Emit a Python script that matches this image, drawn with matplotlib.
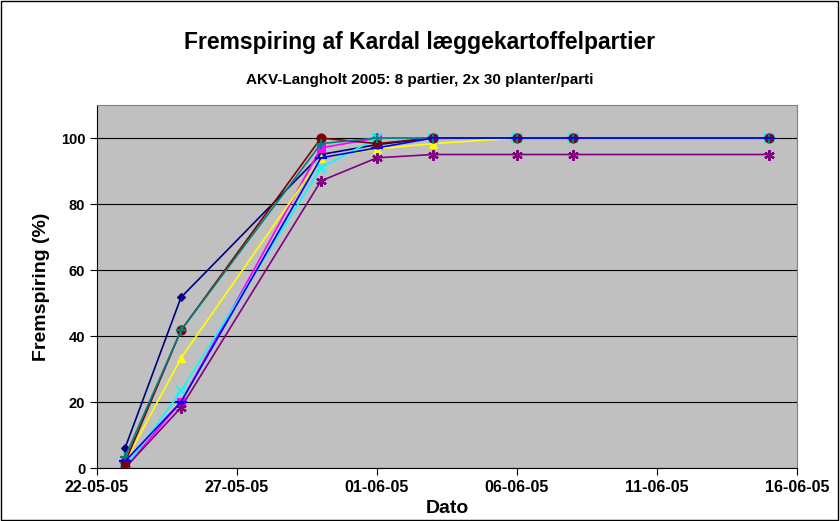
import matplotlib
matplotlib.use('Agg')
import matplotlib.pyplot as plt
import matplotlib.dates as mdates
import numpy as np
import datetime as dt

plt.rcParams['font.family'] = ['Liberation Sans', 'DejaVu Sans']
plt.rcParams['font.weight'] = 'bold'

dates = [dt.date(2005, 5, 23), dt.date(2005, 5, 25), dt.date(2005, 5, 30),
         dt.date(2005, 6, 1), dt.date(2005, 6, 3), dt.date(2005, 6, 6),
         dt.date(2005, 6, 8), dt.date(2005, 6, 15)]

parti1 = [6, 51.7, 95, 98, 100, 100, 100, 100]
parti2 = [0, 20, 97, 100, 100, 100, 100, 100]
parti3 = [1.7, 33.3, 94, 96.7, 98.3, 100, 100, 100]
parti4 = [0, 23.3, 91, 100, 100, 100, 100, 100]
parti5 = [0, 18.3, 87, 94, 95, 95, 95, 95]
parti6 = [1.7, 41.7, 100, 98.3, 100, 100, 100, 100]
parti7 = [3.3, 41.7, 98.3, 100, 100, 100, 100, 100]
parti8 = [2, 20, 94, 97, 100, 100, 100, 100]

series = [parti1, parti2, parti3, parti4, parti5, parti6, parti7, parti8]
colors = ['#000080', '#FF00FF', '#FFFF00', '#00FFFF', '#800080', '#800000', '#008080', '#0000FF']
markers = ['D', 's', '^', 'x', (6, 2, 0), 'o', '+', '_']
msizes = [4.5, 5.5, 5.5, 6.5, 7.5, 6.5, 7.5, 8]

fig = plt.figure(figsize=(8.4, 5.21), dpi=100)
ax = fig.add_axes([97/840, 1-468/521, 700/840, 363/521])
ax.set_facecolor('#C0C0C0')

for s, c, m, ms in zip(series, colors, markers, msizes):
    ax.plot(dates, s, color=c, marker=m, markersize=ms, lw=1.2,
            markeredgewidth=1.6 if m in ('x', '+', '_') or isinstance(m, tuple) else 0.8,
            markeredgecolor=c, markerfacecolor=c)

ax.set_ylim(0, 110)
ax.set_yticks([0, 20, 40, 60, 80, 100])
ax.yaxis.grid(True, color='black', lw=0.8)
ax.set_axisbelow(True)
ax.set_xlim(dt.date(2005, 5, 22), dt.date(2005, 6, 16))
ax.set_xticks([dt.date(2005, 5, 22) + dt.timedelta(days=5*i) for i in range(6)])
ax.xaxis.set_major_formatter(mdates.DateFormatter('%d-%m-%y'))
ax.tick_params(axis='y', labelsize=10.5, length=5, width=0.8)
ax.tick_params(axis='x', labelsize=11.5, length=5, width=0.8, pad=4)
for lab in ax.get_xticklabels() + ax.get_yticklabels():
    lab.set_fontweight('bold')

for sp in ['top', 'right']:
    ax.spines[sp].set_color('#808080')
ax.spines['left'].set_color('black')
ax.spines['bottom'].set_color('black')

ax.set_xlabel('Dato', fontsize=14, fontweight='bold', labelpad=3)
ax.set_ylabel('Fremspiring (%)', fontsize=14, fontweight='bold', labelpad=8)

fig.text(0.5, 1-42/521, 'Fremspiring af Kardal læggekartoffelpartier',
         ha='center', va='center', fontsize=16.5, fontweight='bold')
fig.text(0.5, 1-80/521, 'AKV-Langholt 2005: 8 partier, 2x 30 planter/parti',
         ha='center', va='center', fontsize=11, fontweight='bold')

border = plt.Rectangle((0.001, 0.001), 0.997, 0.997, transform=fig.transFigure,
                       fill=False, edgecolor='black', lw=1)
fig.patches.append(border)

fig.savefig('out.png', dpi=100)
